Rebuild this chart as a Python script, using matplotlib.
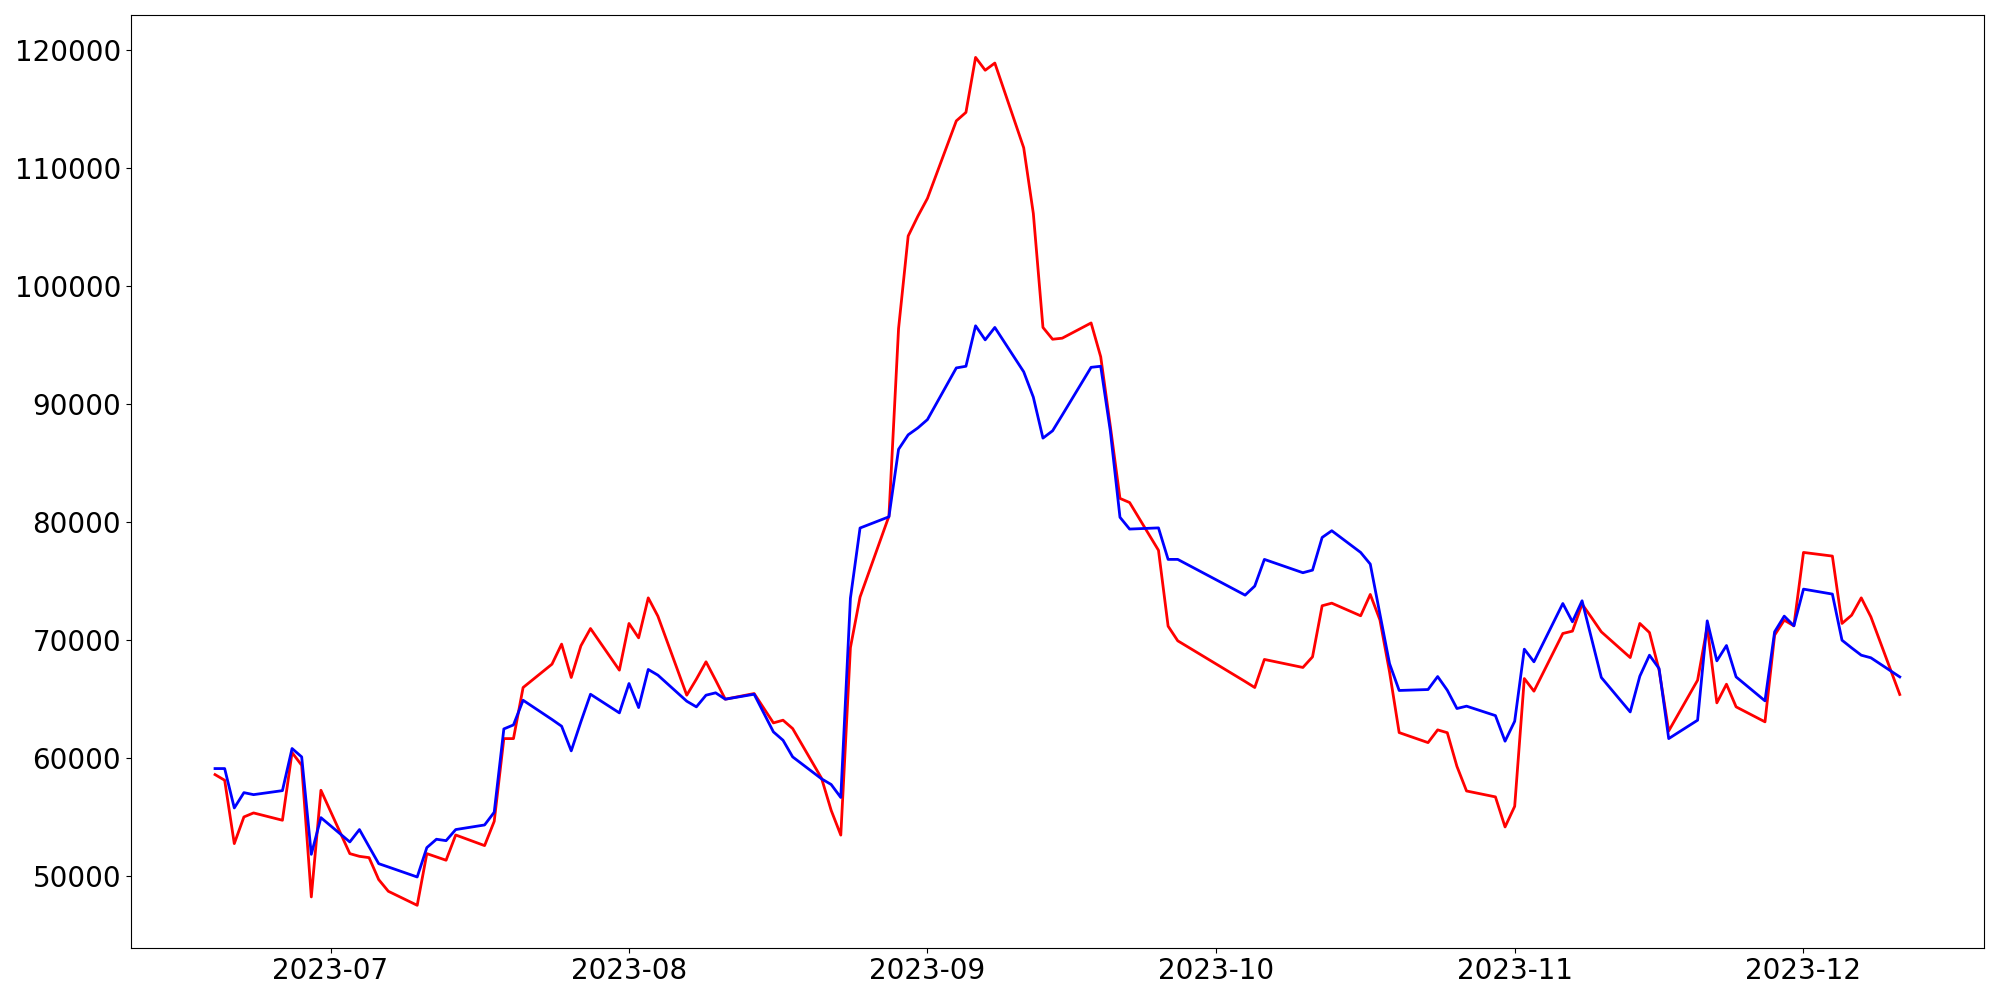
import matplotlib
matplotlib.use("Agg")
import matplotlib.pyplot as plt
import pandas as pd

# trading days (weekdays minus market holidays)
start_date = "2023-06-19"
end_date = "2023-12-11"
holidays = ["2023-08-15", "2023-09-28", "2023-09-29",
            "2023-10-02", "2023-10-03", "2023-10-09"]

red_jun = [58590, 58110, 52740, 55000, 55340, 54720, 60460, 59380, 48220, 57260]
blue_jun = [59100, 59100, 55760, 57060, 56890, 57230, 60800, 60090, 51830, 54940]

red_jul = [51890, 51660, 51550, 49690, 48700, 47510, 51890, 51610, 51330, 53470,
           52570, 54630, 61640, 61640, 65970, 67950, 69650, 66820, 69500, 70970,
           67440]
blue_jul = [52880, 53930, 52480, 51040, 50760, 49910, 52400, 53110, 52990, 53930,
            54320, 55400, 62460, 62800, 64890, 63260, 62690, 60600, 63060, 65400,
            63820]

red_aug = [71400, 70180, 73570, 72020, 65320, 66680, 68150, 66590, 64980, 65460,
           62970, 63200, 62490, 58280, 55560, 53460, 69350, 73640, 80490, 96390,
           104240, 105910]
blue_aug = [66310, 64270, 67500, 67020, 64810, 64330, 65320, 65520, 64980, 65400,
            62210, 61500, 60090, 58230, 57750, 56650, 73540, 79490, 80440, 86160,
            87390, 87970]

red_sep = [107430, 114000, 114720, 119380, 118290, 118900, 111720, 106150, 96490,
           95490, 95580, 96870, 94000, 88100, 82000, 81650, 77600, 71170, 69930]
blue_sep = [88680, 93060, 93200, 96630, 95440, 96490, 92730, 90580, 87110, 87730,
            89060, 93110, 93200, 87700, 80400, 79400, 79500, 76830, 76830]

red_oct = [66480, 65970, 68350, 67670, 68570, 72900, 73120, 72050, 73860, 71700,
           67300, 62150, 61300, 62380, 62140, 59290, 57200, 56700, 54150]
blue_oct = [73800, 74570, 76830, 75700, 75920, 78690, 79260, 77420, 76430, 72200,
            68000, 65720, 65800, 66900, 65740, 64190, 64390, 63590, 61420]

red_nov = [55900, 66730, 65660, 70550, 70750, 73040, 71880, 70690, 68510, 71400,
           70630, 67440, 62290, 66590, 71120, 64670, 66250, 64330, 63060, 70410,
           71680, 71200]
blue_nov = [63110, 69220, 68150, 73090, 71540, 73320, 70070, 66820, 63900, 66930,
            68710, 67580, 61640, 63200, 71620, 68230, 69530, 66870, 64840, 70690,
            72020, 71200]

red_dec = [77420, 77110, 71400, 72100, 73570, 71960, 65380]
blue_dec = [74310, 73890, 69980, 69330, 68710, 68490, 66870]

dates = pd.bdate_range(start_date, end_date, freq="C", holidays=holidays)
red = red_jun + red_jul + red_aug + red_sep + red_oct + red_nov + red_dec
blue = blue_jun + blue_jul + blue_aug + blue_sep + blue_oct + blue_nov + blue_dec

fig, ax = plt.subplots(figsize=(20, 10), dpi=100)
fig.subplots_adjust(left=0.0654, right=0.992, bottom=0.0523, top=0.985)

ax.plot(dates, red, color="red", linewidth=2)
ax.plot(dates, blue, color="blue", linewidth=2)
ax.tick_params(axis="both", labelsize=20)

fig.savefig("out.png")
